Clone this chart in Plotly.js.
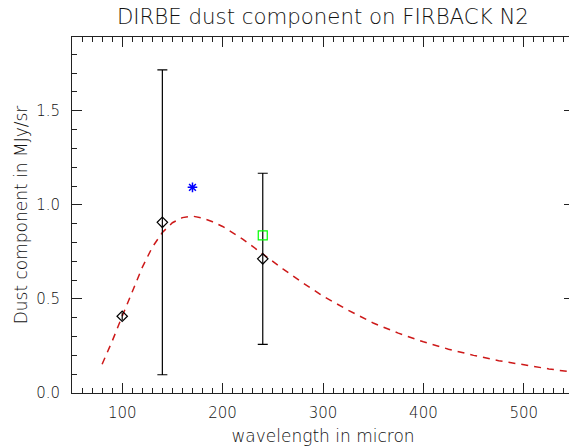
<!DOCTYPE html>
<html>
<head>
<meta charset="utf-8">
<script src="https://cdn.plot.ly/plotly-3.0.1.min.js"></script>
<style>
html,body{margin:0;padding:0;overflow:hidden;background:#fff;}
#chart{width:574px;height:448px;}
</style>
</head>
<body>
<div id="chart"></div>
<script>
// DIRBE measurements (diamonds with error bars)
const dirbeWave = [100, 140, 240];
const dirbeFlux = [0.408, 0.907, 0.713];
const dirbeErr  = [0.02, 0.81, 0.455];

// Other measurements
const starWave = [170];
const starFlux = [1.093];
const squareWave = [240];
const squareFlux = [0.838];

// Dust model curve
const modelWave = [80, 90, 100, 110, 120, 130, 140, 150, 160, 170, 180, 190, 200, 220, 240, 260, 280, 300, 325, 350, 375, 400, 425, 450, 475, 500, 525, 550];
const modelFlux = [0.153, 0.275, 0.408, 0.54, 0.668, 0.775, 0.853, 0.905, 0.932, 0.94, 0.93, 0.91, 0.885, 0.818, 0.738, 0.66, 0.585, 0.515, 0.44, 0.372, 0.318, 0.272, 0.233, 0.2, 0.172, 0.149, 0.128, 0.11];

const xTickVals = [100, 200, 300, 400, 500];
const yTickVals = [0.0, 0.5, 1.0, 1.5];
const yTickText = ['0.0', '0.5', '1.0', '1.5'];

const fam = 'DejaVu Sans ExtraLight, DejaVu Sans';
const font = {family: fam, size: 15, color: '#111', weight: 200};
const titleFont = {family: fam, size: 17, color: '#111', weight: 200};

const diamondMarker = {symbol: 'diamond-open', size: 8, color: '#000', line: {width: 1.2, color: '#000'}};

const traces = [
  {
    x: modelWave, y: modelFlux, type: 'scatter', mode: 'lines',
    line: {color: 'rgb(205,25,25)', width: 1.5, dash: '7px,6px'},
    hoverinfo: 'skip', showlegend: false
  },
  {
    // first DIRBE point: tiny error bar hidden inside the diamond
    x: dirbeWave.slice(0, 1), y: dirbeFlux.slice(0, 1), type: 'scatter', mode: 'markers',
    marker: diamondMarker,
    error_y: {type: 'data', array: dirbeErr.slice(0, 1), visible: true, color: '#000', thickness: 1.2, width: 0},
    showlegend: false
  },
  {
    x: dirbeWave.slice(1), y: dirbeFlux.slice(1), type: 'scatter', mode: 'markers',
    marker: diamondMarker,
    error_y: {type: 'data', array: dirbeErr.slice(1), visible: true, color: '#000', thickness: 1.2, width: 5},
    showlegend: false
  },
  {
    x: starWave, y: starFlux, type: 'scatter', mode: 'markers',
    marker: {symbol: 'asterisk-open', size: 8, color: '#0000ff', line: {width: 1.5, color: '#0000ff'}},
    showlegend: false
  },
  {
    x: squareWave, y: squareFlux, type: 'scatter', mode: 'markers',
    marker: {symbol: 'square-open', size: 9, color: '#00ff00', line: {width: 1.2, color: '#00ff00'}},
    showlegend: false
  }
];

const axisCommon = {
  showgrid: false, zeroline: false, showline: true, linecolor: '#222', linewidth: 1,
  mirror: 'ticks', ticks: 'inside', ticklen: 10, tickcolor: '#222', tickwidth: 1,
  tickfont: font
};

const layout = {
  width: 574, height: 448,
  margin: {l: 72, r: 0, t: 37, b: 54.5},
  paper_bgcolor: '#fff', plot_bgcolor: '#fff',
  font: font,
  title: {text: 'DIRBE dust component on FIRBACK N2', font: {family: fam, size: 21.3, color: '#111', weight: 200},
          x: 0.5625, xanchor: 'center', y: 0.962, yanchor: 'middle'},
  xaxis: Object.assign({}, axisCommon, {
    range: [50, 550], tickvals: xTickVals, ticktext: xTickVals.map(String),
    minor: {dtick: 10, tick0: 0, ticks: 'inside', ticklen: 5, tickcolor: '#222', tickwidth: 1},
    ticklabelstandoff: 6,
    title: {text: 'wavelength in micron', font: titleFont, standoff: 9}
  }),
  yaxis: Object.assign({}, axisCommon, {
    range: [0, 1.892], tickvals: yTickVals, ticktext: yTickText,
    minor: {dtick: 0.1, tick0: 0, ticks: 'inside', ticklen: 5, tickcolor: '#222', tickwidth: 1},
    ticklabelstandoff: 8,
    title: {text: 'Dust component in MJy/sr', font: titleFont, standoff: 4}
  })
};

Plotly.newPlot('chart', traces, layout, {displayModeBar: false, staticPlot: true});
</script>
</body>
</html>
